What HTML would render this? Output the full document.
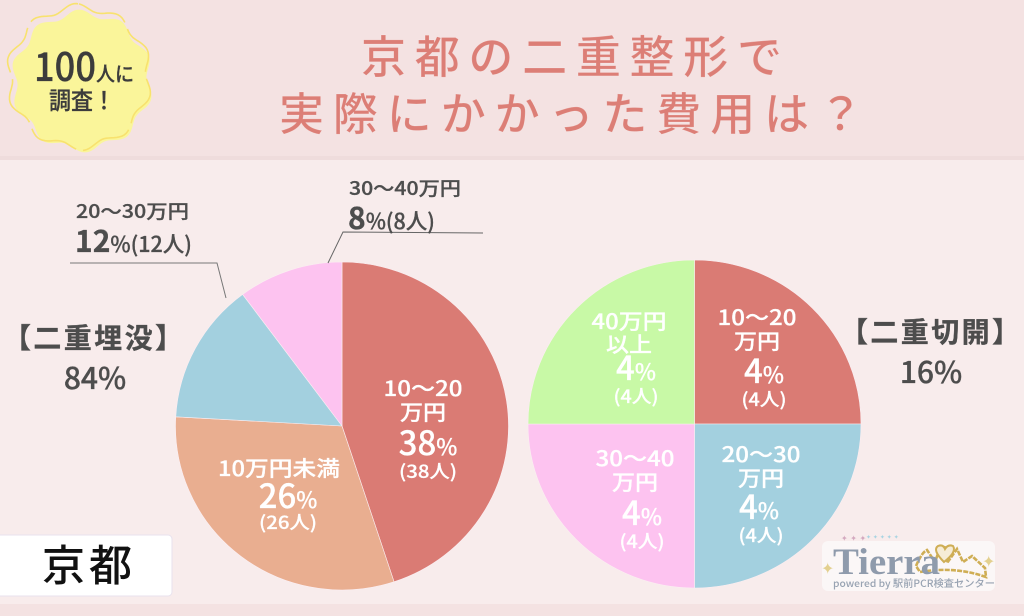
<!DOCTYPE html>
<html lang="ja">
<head>
<meta charset="utf-8">
<title>京都の二重整形で実際にかかった費用は？</title>
<style>
html,body{margin:0;padding:0;background:#f8ecec;}
body{width:1024px;height:616px;overflow:hidden;}
svg{display:block;font-family:"Liberation Sans","Noto Sans CJK JP",sans-serif;}
.cjk{font-family:"Noto Sans CJK JP",sans-serif;}
.w{fill:#fff;stroke:#fff;stroke-width:.25;font-family:"Noto Sans CJK JP",sans-serif;font-weight:500;text-anchor:middle;}
.d{fill:#4d4d4d;stroke:#4d4d4d;stroke-width:.3;font-family:"Noto Sans CJK JP",sans-serif;font-weight:500;}
</style>
</head>
<body>
<svg id="chart" xmlns="http://www.w3.org/2000/svg" width="1024" height="616" viewBox="0 0 1024 616">
  <rect x="0" y="0" width="1024" height="616" fill="#f8ecec"/>
  <rect x="0" y="0" width="1024" height="157" fill="#f4e2e2"/>
  <rect x="0" y="156" width="1024" height="4" fill="#efdcdc"/>
  <rect x="0" y="604" width="1024" height="12" fill="#f4e2e2"/>

  <g id="badge"></g>
  <text class="d" x="34" y="81" font-size="39" style="fill:#3c3c3c;stroke:#3c3c3c" textLength="62" lengthAdjust="spacingAndGlyphs">100</text>
  <text class="d" x="96" y="81" font-size="20" style="fill:#3c3c3c;stroke:#3c3c3c" textLength="38" lengthAdjust="spacingAndGlyphs">人に</text>
  <text class="d" x="49" y="109" font-size="24" style="fill:#3c3c3c;stroke:#3c3c3c" textLength="66" lengthAdjust="spacingAndGlyphs">調査！</text>

  <text class="cjk" x="361" y="73" font-size="45" font-weight="500" fill="#dc7e76" stroke="#fff" stroke-opacity=".3" stroke-width=".5" textLength="421">京都の二重整形で</text>
  <text class="cjk" x="279" y="130" font-size="45" font-weight="500" fill="#dc7e76" stroke="#fff" stroke-opacity=".3" stroke-width=".5" textLength="584">実際にかかった費用は？</text>

  <g id="pie-left"></g>
  <g id="pie-right"></g>

  <polyline points="70,263 217,263 226,298" fill="none" stroke="#777" stroke-width="1"/>
  <polyline points="328,263 343,232 483,233" fill="none" stroke="#666" stroke-width="1"/>

  <text class="d" x="76" y="218" font-size="19" textLength="113" lengthAdjust="spacingAndGlyphs">20～30万円</text>
  <text id="out-a" class="d" x="75" y="252"></text>
  <text class="d" x="349" y="195" font-size="19" textLength="112" lengthAdjust="spacingAndGlyphs">30～40万円</text>
  <text id="out-b" class="d" x="348" y="229"></text>

  <text class="d" x="3" y="348" font-size="28" style="font-weight:700" textLength="180">【二重埋没】</text>
  <text class="d" x="95" y="389" font-size="30" text-anchor="middle">84%</text>
  <text class="d" x="840" y="342" font-size="28" style="font-weight:700" textLength="180">【二重切開】</text>
  <text class="d" x="931" y="383" font-size="30" text-anchor="middle">16%</text>

  <g id="inside"></g>

  <rect x="-6" y="535" width="178" height="61" rx="4" fill="#fff" stroke="#e8e2ee" stroke-width="1"/>
  <text class="cjk" x="42" y="581" font-size="43" font-weight="500" fill="#111" textLength="90">京都</text>

  <g>
    <rect x="822" y="541" width="173" height="50" rx="6" fill="#fbf7f7"/>
    <path d="M916,566 Q922,552 927,550 L935,562 L940,548 Q946,545 951,552 L947,563 L957,549 L963,562 L972,556 L985,568 L986,577 Q955,566 920,572 Z" fill="none" stroke="#cfae55" stroke-width="2.6" stroke-dasharray="5 1.2"/>
    <path d="M944,562 Q932,550 938,546 Q943,544 945,549 Q948,544 953,546 Q957,552 944,562 Z" fill="#f6ecd6" stroke="#cfae55" stroke-width="2"/>
    <text x="833" y="574" font-size="37" font-weight="700" fill="#8f9bac" style="font-family:'Liberation Serif',serif" textLength="107" lengthAdjust="spacingAndGlyphs">Tierra</text>
    <text class="cjk" x="833" y="587" font-size="10" font-weight="500" fill="#98a3b2" textLength="162" lengthAdjust="spacingAndGlyphs">powered by 駅前PCR検査センター</text>
    <text x="821" y="574" font-size="16" fill="#e3d08f" style="font-family:'DejaVu Sans',sans-serif">✦</text>
    <text x="982" y="567" font-size="16" fill="#e3d08f" style="font-family:'DejaVu Sans',sans-serif">✦</text>
    <text x="841" y="541" font-size="8" fill="#d4a9bf" style="font-family:'DejaVu Sans',sans-serif">✦     ✦        ✦</text>
    <text x="866" y="539" font-size="6" fill="#a8d4e2" style="font-family:'DejaVu Sans',sans-serif">✦     ✦        ✦    ✦ ✦</text>
  </g>
</svg>
<script>
var leftCategories = ['10～20万円', '10万円未満', '20～30万円', '30～40万円'];
var leftShares = [37.75, 26, 11.7, 8.55];
var leftPrinted = [38, 26, 12, 8];
var leftColors = ['#da7b74', '#e9ae90', '#a3d0df', '#fdc3f0'];
var rightCategories = ['10～20万円', '20～30万円', '30～40万円', '40万円以上'];
var rightShares = [4, 4, 4, 4];
var rightPrinted = [4, 4, 4, 4];
var rightColors = ['#da7b74', '#a3d0df', '#fdc3f0', '#c8f9a6'];

var NS = 'http://www.w3.org/2000/svg';
function angleAxis(value, total) { return value / total * Math.PI * 2; }
function polar(cx, cy, rx, ry, a) { return [cx + rx * Math.sin(a), cy - ry * Math.cos(a)]; }

function drawPie(target, values, colors, categories, cx, cy, rx, ry, prefix) {
  var total = values.reduce(function (s, v) { return s + v; }, 0);
  var acc = 0;
  values.forEach(function (v, i) {
    var a0 = angleAxis(acc, total);
    acc += v;
    var a1 = angleAxis(acc, total);
    var p0 = polar(cx, cy, rx, ry, a0), p1 = polar(cx, cy, rx, ry, a1);
    var large = (a1 - a0) > Math.PI ? 1 : 0;
    var path = document.createElementNS(NS, 'path');
    path.setAttribute('d', 'M' + cx + ',' + cy + ' L' + p0[0] + ',' + p0[1] + ' A' + rx + ',' + ry + ' 0 ' + large + ' 1 ' + p1[0] + ',' + p1[1] + ' Z');
    path.setAttribute('fill', colors[i]);
    path.setAttribute('stroke', '#fbeef2');
    path.setAttribute('stroke-width', '0.6');
    
    
    target.appendChild(path);
  });
}
drawPie(document.getElementById('pie-left'), leftShares, leftColors, leftCategories, 342, 426, 166.5, 164, 'burial');
drawPie(document.getElementById('pie-right'), rightShares, rightColors, rightCategories, 694.5, 424, 166.5, 164, 'incision');

function addText(parent, x, y, size, str, name, width) {
  var t = document.createElementNS(NS, 'text');
  t.setAttribute('class', 'w');
  t.setAttribute('x', x);
  t.setAttribute('y', y);
  t.setAttribute('font-size', size);
  if (width) { t.setAttribute('textLength', width); t.setAttribute('lengthAdjust', 'spacingAndGlyphs'); }
  t.textContent = str;
  
  
  parent.appendChild(t);
  return t;
}
function addPercent(parent, x, y, big, v, name) {
  var t = addText(parent, x, y, big, '', name);
  var a = document.createElementNS(NS, 'tspan');
  a.textContent = v;
  var b = document.createElementNS(NS, 'tspan');
  b.setAttribute('font-size', big * 0.68);
  b.textContent = '%';
  t.appendChild(a);
  t.appendChild(b);
}
var inside = document.getElementById('inside');

/* left pie inner labels */
addText(inside, 423, 396, 21, '10～20', 'burial-10-20-range', 79);
addText(inside, 423, 420, 21, '万円', 'burial-10-20-unit', 46);
addPercent(inside, 428, 455, 33, leftPrinted[0], 'burial-10-20-percent');
addText(inside, 428, 478, 18, '(' + leftPrinted[0] + '人)', 'burial-10-20-count', 58);
addText(inside, 279, 476, 21, '10万円未満', 'burial-under-10-range', 122);
addPercent(inside, 288, 508, 33, leftPrinted[1], 'burial-under-10-percent');
addText(inside, 288, 529, 18, '(' + leftPrinted[1] + '人)', 'burial-under-10-count', 58);

/* right pie inner labels */
addText(inside, 757, 325, 21, '10～20', 'incision-10-20-range', 79);
addText(inside, 757, 349, 21, '万円', 'incision-10-20-unit', 46);
addPercent(inside, 764, 383, 33, rightPrinted[0], 'incision-10-20-percent');
addText(inside, 764, 406, 18, '(' + rightPrinted[0] + '人)', 'incision-10-20-count', 45);
addText(inside, 761, 462, 21, '20～30', 'incision-20-30-range', 79);
addText(inside, 761, 486, 21, '万円', 'incision-20-30-unit', 46);
addPercent(inside, 759, 519, 33, rightPrinted[1], 'incision-20-30-percent');
addText(inside, 761, 542, 18, '(' + rightPrinted[1] + '人)', 'incision-20-30-count', 45);
addText(inside, 635, 466, 21, '30～40', 'incision-30-40-range', 79);
addText(inside, 635, 490, 21, '万円', 'incision-30-40-unit', 46);
addPercent(inside, 642, 525, 33, rightPrinted[2], 'incision-30-40-percent');
addText(inside, 642, 548, 18, '(' + rightPrinted[2] + '人)', 'incision-30-40-count', 45);
addText(inside, 629, 329, 21, '40万円', 'incision-40-plus-range', 75);
addText(inside, 629, 352, 21, '以上', 'incision-40-plus-unit', 46);
addPercent(inside, 636, 380, 33, rightPrinted[3], 'incision-40-plus-percent');
addText(inside, 636, 403, 18, '(' + rightPrinted[3] + '人)', 'incision-40-plus-count', 45);

/* outside labels */
function outLabel(id, v) {
  var t = document.getElementById(id);
  var a = document.createElementNS(NS, 'tspan');
  a.setAttribute('font-size', 30);
  a.setAttribute('font-weight', 700);
  a.textContent = v;
  var b = document.createElementNS(NS, 'tspan');
  b.setAttribute('font-size', 21.5);
  b.textContent = '%(' + v + '人)';
  t.appendChild(a);
  t.appendChild(b);
}
outLabel('out-a', leftPrinted[2]);
outLabel('out-b', leftPrinted[3]);

/* decorative badge outline */
function wavy(cx, cy, r, amp, n) {
  var d = '';
  for (var i = 0; i <= 180; i++) {
    var a = i / 180 * Math.PI * 2;
    var rr = r + amp * Math.cos(n * a + 0.5);
    var p = polar(cx, cy, rr, rr, a);
    d += (i ? 'L' : 'M') + p[0].toFixed(1) + ',' + p[1].toFixed(1);
  }
  return d + 'Z';
}
var badge = document.getElementById('badge');
var fillPath = document.createElementNS(NS, 'path');
fillPath.setAttribute('d', wavy(82, 81, 68, 3.5, 10));
fillPath.setAttribute('fill', '#faf59a');


badge.appendChild(fillPath);
var edgePath = document.createElementNS(NS, 'path');
edgePath.setAttribute('d', wavy(79, 77, 70, 3.5, 10));
edgePath.setAttribute('fill', 'none');
edgePath.setAttribute('stroke', '#f8e26e');
edgePath.setAttribute('stroke-width', '1.6');
edgePath.setAttribute('stroke-dasharray', '52 7');


badge.appendChild(edgePath);
</script>
</body>
</html>
